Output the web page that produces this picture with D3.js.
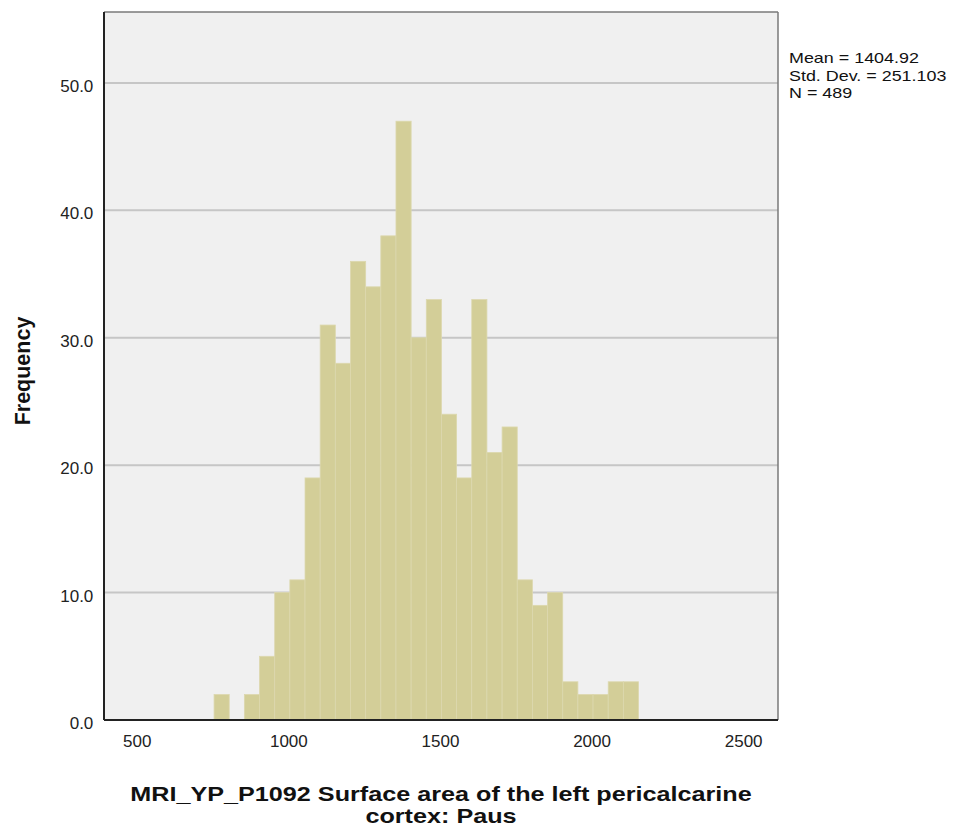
<!DOCTYPE html>
<meta charset="utf-8">
<head>
    <script type="text/javascript" src="https://cdn.jsdelivr.net/npm/d3@7"></script>
    <style>
        body { margin: 0; background: #fff; }
        text { font-family: "Liberation Sans", Arial, sans-serif; }
    </style>
</head>
<body>
<div id="histogram"></div>
</body>
<script>
    // histogram data: bins of width 50 starting at 755
    var binStart = 755;
    var binWidth = 50;
    var counts = [2, 0, 2, 5, 10, 11, 19, 31, 28, 36, 34, 38, 47, 30,
                  33, 24, 19, 33, 21, 23, 11, 9, 10, 3, 2, 2, 3, 3];
    var xTicks = [500, 1000, 1500, 2000, 2500];
    var yTicks = [0, 10, 20, 30, 40, 50];
    var statsLines = ["Mean = 1404.92", "Std. Dev. = 251.103", "N = 489"];
    var xTitle = ["MRI_YP_P1092 Surface area of the left pericalcarine", "cortex: Paus"];

    var bins = counts.map(function (c, i) {
        return {x0: binStart + i * binWidth, x1: binStart + (i + 1) * binWidth, n: c};
    });

    var margin = {top: 12, right: 176, bottom: 109, left: 104};
    var W = 954, H = 829;
    var width = W - margin.left - margin.right;
    var height = H - margin.top - margin.bottom;

    var svg = d3.select('#histogram').append('svg')
        .attr('width', W).attr('height', H);

    var g = svg.append('g').attr('transform', 'translate(' + margin.left + ',' + margin.top + ')');

    var x = d3.scaleLinear().domain([392, 2615]).range([0, width]);
    var y = d3.scaleLinear().domain([0, 55.57]).range([height, 0]);

    // plot background
    g.append('rect').attr('width', width).attr('height', height).attr('fill', '#f0f0f0');

    // gridlines
    g.selectAll('.grid').data(yTicks.filter(function (d) { return d > 0; }))
        .enter().append('line')
        .attr('x1', 0).attr('x2', width)
        .attr('y1', function (d) { return y(d); })
        .attr('y2', function (d) { return y(d); })
        .attr('stroke', '#c6c6c6').attr('stroke-width', 2);

    // bars
    g.selectAll('.bar').data(bins.filter(function (d) { return d.n > 0; }))
        .enter().append('rect')
        .attr('x', function (d) { return x(d.x0); })
        .attr('width', function (d) { return x(d.x1) - x(d.x0); })
        .attr('y', function (d) { return y(d.n); })
        .attr('height', function (d) { return y(0) - y(d.n); })
        .attr('fill', '#d3ce98')
        .attr('stroke', '#dcd8ae').attr('stroke-width', 0.8);

    // frame: top/right grey, left/bottom dark
    g.append('line').attr('x1', 0).attr('x2', width).attr('y1', 0).attr('y2', 0)
        .attr('stroke', '#7a7a7a').attr('stroke-width', 1.5);
    g.append('line').attr('x1', width).attr('x2', width).attr('y1', 0).attr('y2', height)
        .attr('stroke', '#7a7a7a').attr('stroke-width', 1.5);
    g.append('line').attr('x1', 0).attr('x2', 0).attr('y1', 0).attr('y2', height)
        .attr('stroke', '#222').attr('stroke-width', 2);
    g.append('line').attr('x1', 0).attr('x2', width).attr('y1', height).attr('y2', height)
        .attr('stroke', '#222').attr('stroke-width', 2);

    // axes
    var xAxis = d3.axisBottom(x).tickValues(xTicks).tickSize(0).tickPadding(14.6)
        .tickFormat(d3.format('d'));
    var gx = g.append('g').attr('transform', 'translate(0,' + height + ')').call(xAxis);
    gx.select('.domain').remove();
    gx.selectAll('text').attr('font-size', 17).attr('fill', '#222')
        .style('font-family', '"Liberation Sans", Arial, sans-serif');

    var yAxis = d3.axisLeft(y).tickValues(yTicks).tickSize(0).tickPadding(10.7)
        .tickFormat(d3.format('.1f'));
    var gy = g.append('g').call(yAxis);
    gy.select('.domain').remove();
    gy.selectAll('text').attr('font-size', 17).attr('fill', '#222').attr('dy', '0.5em')
        .style('font-family', '"Liberation Sans", Arial, sans-serif');

    // axis titles
    svg.append('text')
        .attr('transform', 'translate(29.5,371) rotate(-90)')
        .attr('text-anchor', 'middle')
        .attr('font-size', 21.5).attr('font-weight', 'bold').attr('fill', '#111')
        .text('Frequency');

    svg.append('g').selectAll('text').data(xTitle).enter().append('text')
        .attr('transform', function (d, i) {
            return 'translate(' + (margin.left + width / 2) + ',' + (801 + i * 22) + ') scale(1.26,1)';
        })
        .attr('text-anchor', 'middle')
        .attr('font-size', 20).attr('font-weight', 'bold').attr('fill', '#111')
        .text(function (d) { return d; });

    // stats box
    svg.append('g').selectAll('text').data(statsLines).enter().append('text')
        .attr('transform', function (d, i) {
            return 'translate(789,' + (63 + i * 17.5) + ') scale(1.28,1)';
        })
        .attr('font-size', 14).attr('fill', '#111')
        .text(function (d) { return d; });
</script>
</html>
